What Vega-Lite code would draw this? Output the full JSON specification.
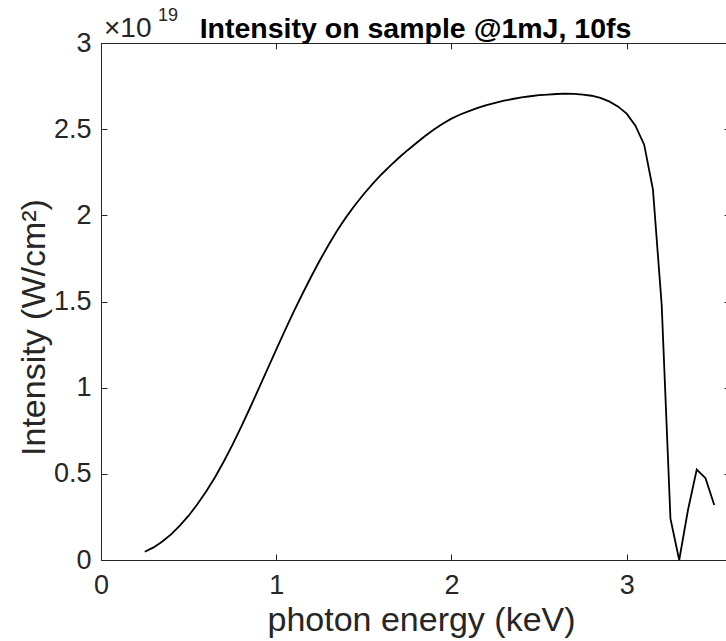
{
  "$schema": "https://vega.github.io/schema/vega-lite/v6.json",
  "width": 625,
  "height": 517,
  "autosize": {"type": "none"},
  "padding": {"left": 101, "top": 43, "right": 0, "bottom": 81},
  "background": "white",
  "config": {
    "view": {"stroke": null},
    "font": "Liberation Sans",
    "axis": {
      "grid": false,
      "domainColor": "#262626",
      "tickColor": "#262626",
      "labelColor": "#262626",
      "titleColor": "#262626",
      "labelFont": "Liberation Sans",
      "titleFont": "Liberation Sans",
      "labelFontSize": 27,
      "titleFontSize": 34,
      "titleFontWeight": "normal",
      "domainWidth": 1,
      "tickWidth": 1,
      "tickSize": -6,
      "labelFlush": false,
      "labelOverlap": false
    }
  },
  "title": {
    "text": "Intensity on sample @1mJ, 10fs",
    "font": "Liberation Sans",
    "fontSize": 28.5,
    "fontWeight": "bold",
    "color": "black",
    "anchor": "middle",
    "baseline": "alphabetic",
    "offset": -59,
    "dx": 2
  },
  "datasets": {
    "curve": [
      {"energy": 0.25, "intensity": 4.8e17},
      {"energy": 0.30, "intensity": 7.3e17},
      {"energy": 0.35, "intensity": 1.07e18},
      {"energy": 0.40, "intensity": 1.49e18},
      {"energy": 0.45, "intensity": 1.99e18},
      {"energy": 0.50, "intensity": 2.57e18},
      {"energy": 0.55, "intensity": 3.23e18},
      {"energy": 0.60, "intensity": 3.97e18},
      {"energy": 0.65, "intensity": 4.79e18},
      {"energy": 0.70, "intensity": 5.70e18},
      {"energy": 0.75, "intensity": 6.68e18},
      {"energy": 0.80, "intensity": 7.72e18},
      {"energy": 0.85, "intensity": 8.82e18},
      {"energy": 0.90, "intensity": 9.94e18},
      {"energy": 0.95, "intensity": 1.108e19},
      {"energy": 1.00, "intensity": 1.221e19},
      {"energy": 1.05, "intensity": 1.332e19},
      {"energy": 1.10, "intensity": 1.441e19},
      {"energy": 1.15, "intensity": 1.545e19},
      {"energy": 1.20, "intensity": 1.645e19},
      {"energy": 1.25, "intensity": 1.741e19},
      {"energy": 1.30, "intensity": 1.831e19},
      {"energy": 1.35, "intensity": 1.915e19},
      {"energy": 1.40, "intensity": 1.991e19},
      {"energy": 1.45, "intensity": 2.060e19},
      {"energy": 1.50, "intensity": 2.124e19},
      {"energy": 1.55, "intensity": 2.183e19},
      {"energy": 1.60, "intensity": 2.237e19},
      {"energy": 1.65, "intensity": 2.287e19},
      {"energy": 1.70, "intensity": 2.334e19},
      {"energy": 1.75, "intensity": 2.378e19},
      {"energy": 1.80, "intensity": 2.420e19},
      {"energy": 1.85, "intensity": 2.460e19},
      {"energy": 1.90, "intensity": 2.498e19},
      {"energy": 1.95, "intensity": 2.532e19},
      {"energy": 2.00, "intensity": 2.561e19},
      {"energy": 2.05, "intensity": 2.585e19},
      {"energy": 2.10, "intensity": 2.605e19},
      {"energy": 2.15, "intensity": 2.623e19},
      {"energy": 2.20, "intensity": 2.639e19},
      {"energy": 2.25, "intensity": 2.653e19},
      {"energy": 2.30, "intensity": 2.665e19},
      {"energy": 2.35, "intensity": 2.675e19},
      {"energy": 2.40, "intensity": 2.684e19},
      {"energy": 2.45, "intensity": 2.691e19},
      {"energy": 2.50, "intensity": 2.697e19},
      {"energy": 2.55, "intensity": 2.701e19},
      {"energy": 2.60, "intensity": 2.704e19},
      {"energy": 2.65, "intensity": 2.706e19},
      {"energy": 2.70, "intensity": 2.705e19},
      {"energy": 2.75, "intensity": 2.701e19},
      {"energy": 2.80, "intensity": 2.694e19},
      {"energy": 2.85, "intensity": 2.681e19},
      {"energy": 2.90, "intensity": 2.661e19},
      {"energy": 2.95, "intensity": 2.632e19},
      {"energy": 3.00, "intensity": 2.590e19},
      {"energy": 3.05, "intensity": 2.520e19},
      {"energy": 3.10, "intensity": 2.410e19},
      {"energy": 3.15, "intensity": 2.150e19},
      {"energy": 3.20, "intensity": 1.480e19},
      {"energy": 3.25, "intensity": 2.4e18},
      {"energy": 3.30, "intensity": 0},
      {"energy": 3.35, "intensity": 2.9e18},
      {"energy": 3.40, "intensity": 5.25e18},
      {"energy": 3.45, "intensity": 4.75e18},
      {"energy": 3.50, "intensity": 3.19e18}
    ],
    "corner": [{"energy": 0, "intensity": 3e19}]
  },
  "layer": [
    {
      "data": {"name": "curve"},
      "mark": {"type": "line", "color": "black", "strokeWidth": 1.8},
      "encoding": {
        "x": {
          "field": "energy",
          "type": "quantitative",
          "scale": {"domain": [0, 3.567], "nice": false, "zero": false},
          "axis": {
            "orient": "bottom",
            "values": [0, 1, 2, 3],
            "title": "photon energy (keV)",
            "labelPadding": 18,
            "labelBaseline": "top",
            "titleX": 320,
            "titleY": 70,
            "titleBaseline": "alphabetic",
            "titleAnchor": null
          }
        },
        "y": {
          "field": "intensity",
          "type": "quantitative",
          "scale": {"domain": [0, 3e19], "nice": false},
          "axis": {
            "orient": "left",
            "values": [0, 5e18, 1e19, 1.5e19, 2e19, 2.5e19, 3e19],
            "labelExpr": "format(datum.value / 1e19, '.3~g')",
            "labelPadding": 16,
            "title": "Intensity (W/cm²)",
            "titleX": -57,
            "titleY": 284,
            "titleAngle": -90,
            "titleBaseline": "alphabetic",
            "titleAlign": "center"
          }
        }
      }
    },
    {
      "data": {"name": "corner"},
      "mark": {"type": "text", "text": "×10", "align": "left", "baseline": "alphabetic", "dx": 3, "dy": -6, "fontSize": 28, "font": "Liberation Sans", "color": "#262626"},
      "encoding": {
        "x": {
          "field": "energy",
          "type": "quantitative",
          "axis": {"orient": "top", "values": [0, 1, 2, 3], "labels": false, "title": null}
        },
        "y": {
          "field": "intensity",
          "type": "quantitative",
          "axis": {"orient": "right", "values": [0, 5e18, 1e19, 1.5e19, 2e19, 2.5e19, 3e19], "labels": false, "title": null, "domain": false, "offset": 4}
        }
      }
    },
    {
      "data": {"name": "corner"},
      "mark": {"type": "text", "text": "19", "align": "left", "baseline": "alphabetic", "dx": 57, "dy": -22, "fontSize": 18, "font": "Liberation Sans", "color": "#262626"},
      "encoding": {
        "x": {"field": "energy", "type": "quantitative", "axis": null},
        "y": {"field": "intensity", "type": "quantitative", "axis": null}
      }
    }
  ],
  "resolve": {"axis": {"x": "independent", "y": "independent"}}
}
